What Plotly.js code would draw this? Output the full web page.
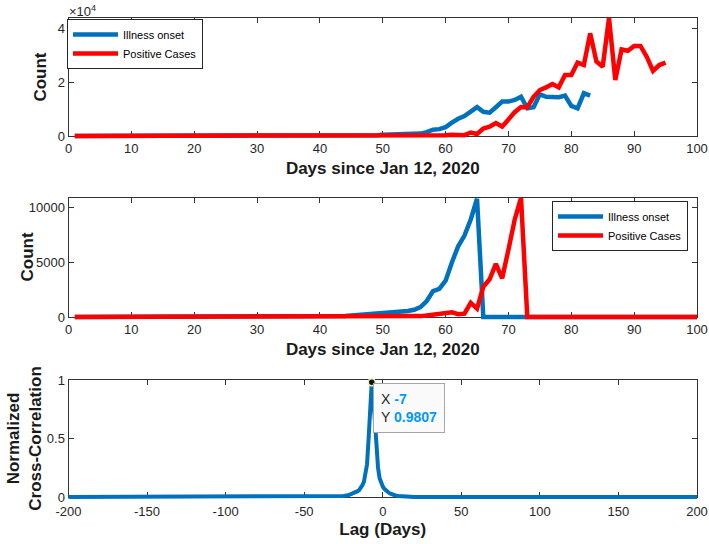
<!DOCTYPE html>
<html><head><meta charset="utf-8">
<script src="https://cdn.plot.ly/plotly-3.0.1.min.js"></script>
<style>html,body{margin:0;padding:0;background:#fff;} #chart{width:709px;height:544px;}</style>
</head><body><div id="chart"></div>
<script>
// ---------------- DATA ----------------
// Daily counts; first entry = day 1 (days since Jan 12, 2020)
const illnessOnset = [
  0,0,0,0,0,0,0,0,0,0, 0,0,0,0,0,0,0,0,0,0, 0,0,0,0,0,0,0,0,0,
  2,3,4,5,7,9,11,14,18,24,
  30,40,50,70,90,130,170,210,250,290,
  420,430,450,480,540,660,900,1450,2350,2550,
  3300,4960,6430,7400,8870,10750,9000,8700,10700,12800,
  12800,13400,14600,10300,10700,15500,14600,14400,14400,15000,
  11200,10300,15900,15000
];
const positiveCases = [
  0,0,0,0,0,0,0,0,0,0, 0,0,0,0,0,0,0,0,0,0, 0,0,0,0,0,0,0,0,0,0,
  0,0,0,0,0,0,0,0,0,
  2,3,5,6,8,10,12,15,18,22,
  26,32,40,48,55,65,80,130,210,290,
  300,430,250,300,1290,765,2750,3430,4830,3520,
  6120,8870,10820,10700,14600,17100,18100,19300,18100,22700,
  22700,27300,26400,38200,27700,25800,43900,20800,32200,31700,
  33500,33500,29500,24200,26400,27300
];
// Middle panel: series truncated after these days (zeros afterwards), through day 100
const onsetLastDay = 65;
const positiveLastDay = 72;
const truncatedEndDay = 100;

// Normalized cross-correlation vs lag (days); ~0 outside the listed lags
const lagDays   = [-200,-40,-35,-30,-25,-22,-20,-18,-16,-15,-14,-13,-12,-11,-10,-9,-8,-7,-6,-5,-4,-3,-2,-1,0,1,2,3,4,5,6,7,8,10,12,15,20,200];
const crossCorr = [0,0,0.001,0.003,0.008,0.015,0.025,0.035,0.05,0.06,0.075,0.1,0.13,0.19,0.28,0.5,0.76,0.9807,0.85,0.65,0.42,0.25,0.16,0.11,0.09,0.07,0.055,0.045,0.035,0.028,0.022,0.017,0.013,0.008,0.005,0.002,0,0];
const peakLag = -7, peakValue = 0.9807;

const seriesNames = ['Illness onset', 'Positive Cases'];
const xTitleDays = 'Days since Jan 12, 2020';
const yTitleCount = 'Count';
const xTitleLag = 'Lag (Days)';
const yTitleCorr = 'Normalized<br>Cross-Correlation';
const topYTickVals = [0, 20000, 40000];
const topYTickText = ['0', '2', '4'];
const midYTickVals = [0, 5000, 10000];
const botYTickVals = [0, 0.5, 1];
const lagTickVals = [-200, -150, -100, -50, 0, 50, 100, 150, 200];

// ---------------- LAYOUT HELPERS ----------------
const W = 709, H = 544;
const FONT = 'Liberation Sans, Arial, Helvetica, sans-serif';
const BLUE = '#0072BD', RED = '#FF0000';
const colPx = [68.5, 697];
const panels = [
  {top: 18, bottom: 136, xr: [0, 100], yr: [0, 43900]},
  {top: 198, bottom: 317, xr: [0, 100], yr: [0, 10820]},
  {top: 380, bottom: 497, xr: [-200, 200], yr: [0, 1]}
];
const fx = p => p / W, fy = p => 1 - p / H;
const PAD = 6;

function visX(p, extra) {
  return Object.assign({
    domain: [fx(colPx[0]), fx(colPx[1])], range: p.xr,
    showline: true, linecolor: '#333', linewidth: 1, mirror: 'ticks',
    ticks: 'inside', ticklen: 5, tickwidth: 1, tickcolor: '#333',
    showgrid: false, zeroline: false, fixedrange: true,
    tickfont: {family: FONT, size: 13, color: '#262626'}
  }, extra);
}
function visY(p, extra) {
  return Object.assign({
    domain: [fy(p.bottom), fy(p.top)], range: p.yr,
    showline: true, linecolor: '#333', linewidth: 1, mirror: 'ticks',
    ticks: 'inside', ticklen: 5, tickwidth: 1, tickcolor: '#333',
    showgrid: false, zeroline: false, fixedrange: true,
    tickfont: {family: FONT, size: 13, color: '#262626'}
  }, extra);
}
// invisible data axes, slightly larger than the frame so thick lines at the edge are not clipped
function dataX(p, anchor) {
  const s = (p.xr[1] - p.xr[0]) / (colPx[1] - colPx[0]);
  return {domain: [fx(colPx[0] - PAD), fx(colPx[1] + PAD)],
    range: [p.xr[0] - PAD * s, p.xr[1] + PAD * s], visible: false, fixedrange: true, anchor: anchor};
}
function dataY(p, anchor) {
  const s = (p.yr[1] - p.yr[0]) / (p.bottom - p.top);
  return {domain: [fy(p.bottom + PAD), fy(p.top - PAD)],
    range: [p.yr[0] - PAD * s, p.yr[1] + PAD * s], visible: false, fixedrange: true, anchor: anchor};
}
const titleFont = {family: FONT, size: 17, weight: 700, color: '#1a1a1a'};

// ---------------- TRACES ----------------
const daysOnset = illnessOnset.map((v, i) => i + 1);
const daysPositive = positiveCases.map((v, i) => i + 1);
const daysTrunc = [];
for (let d = 1; d <= truncatedEndDay; d++) daysTrunc.push(d);
const onsetTrunc = daysTrunc.map(d => d <= onsetLastDay ? illnessOnset[d - 1] : 0);
const positiveTrunc = daysTrunc.map(d => d <= positiveLastDay ? positiveCases[d - 1] : 0);

const LW = 4.5;
// empty traces so the framed (visible) axes are drawn
const frameTraces = [['x', 'y'], ['x2', 'y2'], ['x3', 'y3']].map(a => ({
  x: [], y: [], type: 'scatter', mode: 'lines', showlegend: false, xaxis: a[0], yaxis: a[1]}));

const traces = frameTraces.concat([
  {x: daysOnset, y: illnessOnset, name: seriesNames[0], type: 'scatter', mode: 'lines',
   line: {color: BLUE, width: LW}, xaxis: 'x4', yaxis: 'y4', legend: 'legend'},
  {x: daysPositive, y: positiveCases, name: seriesNames[1], type: 'scatter', mode: 'lines',
   line: {color: RED, width: LW}, xaxis: 'x4', yaxis: 'y4', legend: 'legend'},
  {x: daysTrunc, y: onsetTrunc, name: seriesNames[0], type: 'scatter', mode: 'lines',
   line: {color: BLUE, width: LW}, xaxis: 'x5', yaxis: 'y5', legend: 'legend2'},
  {x: daysTrunc, y: positiveTrunc, name: seriesNames[1], type: 'scatter', mode: 'lines',
   line: {color: RED, width: LW}, xaxis: 'x5', yaxis: 'y5', legend: 'legend2'},
  {x: lagDays, y: crossCorr, type: 'scatter', mode: 'lines', showlegend: false,
   line: {color: BLUE, width: 4}, xaxis: 'x6', yaxis: 'y6'},
  {x: [peakLag], y: [peakValue], type: 'scatter', mode: 'markers', showlegend: false, cliponaxis: false,
   marker: {size: 7, color: '#111', line: {color: '#f4efb8', width: 1.5}}, xaxis: 'x6', yaxis: 'y6'}
]);

const legendCommon = {xanchor: 'left', yanchor: 'top', bgcolor: '#fff', bordercolor: '#262626',
  borderwidth: 1, font: {family: FONT, size: 11, color: '#000'}, tracegroupgap: 0, itemwidth: 45};

const layout = {
  width: W, height: H, margin: {l: 0, r: 0, t: 0, b: 0},
  paper_bgcolor: '#fff', plot_bgcolor: 'rgba(0,0,0,0)', hovermode: false,
  xaxis: visX(panels[0], {anchor: 'y', dtick: 10, tick0: 0,
    title: {text: xTitleDays, font: titleFont, standoff: 7}}),
  yaxis: visY(panels[0], {anchor: 'x', tickvals: topYTickVals, ticktext: topYTickText,
    title: {text: yTitleCount, font: titleFont, standoff: 6}}),
  xaxis2: visX(panels[1], {anchor: 'y2', dtick: 10, tick0: 0,
    title: {text: xTitleDays, font: titleFont, standoff: 7}}),
  yaxis2: visY(panels[1], {anchor: 'x2', tickvals: midYTickVals, tickformat: 'd'}),
  xaxis3: visX(panels[2], {anchor: 'y3', tickvals: lagTickVals, ticktext: lagTickVals.map(String),
    ticklabelstandoff: 2,
    title: {text: xTitleLag, font: titleFont, standoff: 5}}),
  yaxis3: visY(panels[2], {anchor: 'x3', tickvals: botYTickVals,
    title: {text: yTitleCorr, font: titleFont, standoff: 0}}),
  xaxis4: dataX(panels[0], 'y4'), yaxis4: dataY(panels[0], 'x4'),
  xaxis5: dataX(panels[1], 'y5'), yaxis5: dataY(panels[1], 'x5'),
  xaxis6: dataX(panels[2], 'y6'), yaxis6: dataY(panels[2], 'x6'),
  legend: Object.assign({x: fx(67), y: fy(19)}, legendCommon),
  legend2: Object.assign({x: fx(552), y: fy(201)}, legendCommon),
  annotations: [
    {xref: 'paper', yref: 'paper', x: fx(67), y: fy(11), xanchor: 'left', yanchor: 'middle',
     text: '×10<sup>4</sup>', showarrow: false, font: {family: FONT, size: 13, color: '#262626'}},
    {xref: 'paper', yref: 'paper', x: fx(27), y: fy(257.5), xanchor: 'center', yanchor: 'middle',
     textangle: -90, text: yTitleCount, showarrow: false, font: titleFont},
    {xref: 'paper', yref: 'paper', x: fx(373), y: fy(383), xanchor: 'left', yanchor: 'top', align: 'left',
     text: 'X <span style="color:#0099ff"><b>' + peakLag + '</b></span><br>Y <span style="color:#0099ff"><b>' + peakValue + '</b></span>',
     showarrow: false, bgcolor: '#fafafa', bordercolor: '#a6a6a6', borderwidth: 1, borderpad: 7,
     font: {family: FONT, size: 14, color: '#262626'}}
  ]
};

Plotly.newPlot('chart', traces, layout, {staticPlot: true, displayModeBar: false});
</script>
</body></html>
